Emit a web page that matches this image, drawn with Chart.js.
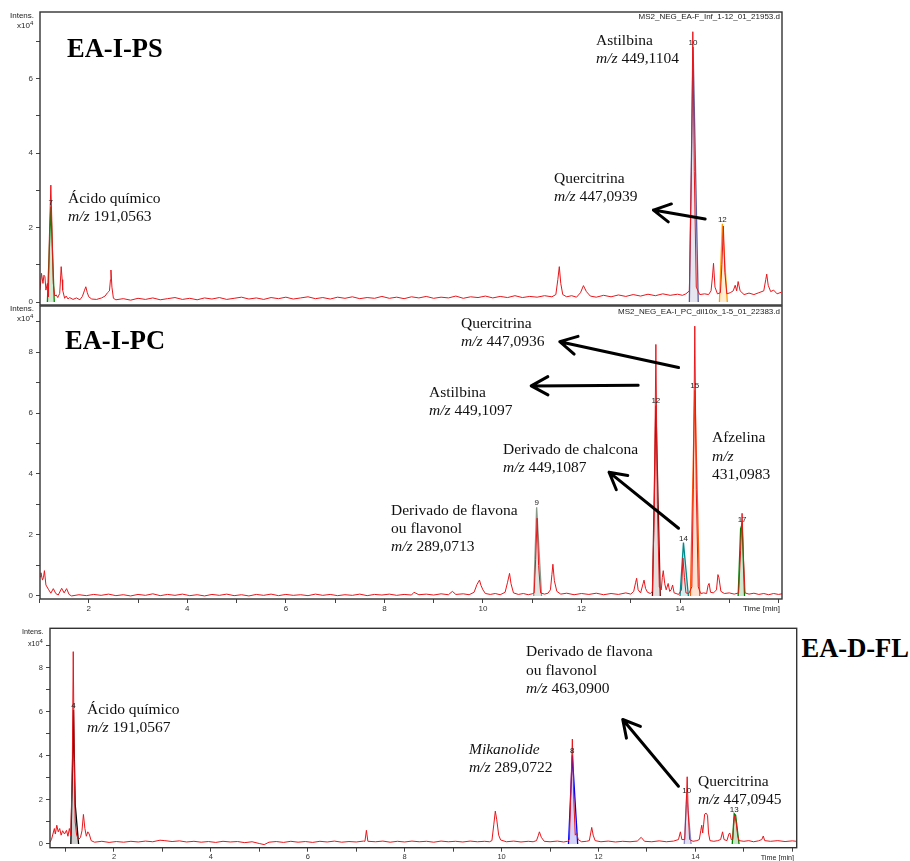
<!DOCTYPE html>
<html>
<head>
<meta charset="utf-8">
<script src="https://cdn.jsdelivr.net/npm/chart.js@4.4.1/dist/chart.umd.min.js"></script>
<style>
  body { margin: 0; background: #fff; }
  #page { position: relative; width: 910px; height: 861px; overflow: hidden; background: #fff; }
  canvas { position: absolute; }
  .note { position: absolute; font-family: "Liberation Serif", "Times New Roman", serif; font-size: 15.5px; line-height: 18.4px; color: #111; white-space: nowrap; }
  .tag { position: absolute; font-family: "Liberation Serif", "Times New Roman", serif; font-weight: bold; font-size: 26.5px; line-height: 26.5px; color: #000; white-space: nowrap; }
  .small { position: absolute; font-family: "Liberation Sans", Arial, sans-serif; font-size: 8px; line-height: 8px; color: #222; white-space: nowrap; }
  .small sup { font-size: 6px; vertical-align: 3px; line-height: 0; }
  .peak { position: absolute; font-family: "Liberation Sans", Arial, sans-serif; font-size: 8px; line-height: 8px; color: #222; transform: translate(-50%, -100%); white-space: nowrap; }
</style>
</head>
<body>
<div id="page">
  <canvas id="chartPS" width="800" height="306" style="left:0;top:0"></canvas>
  <canvas id="chartPC" width="800" height="316" style="left:0;top:304px"></canvas>
  <canvas id="chartFL" width="800" height="246" style="left:0;top:615px"></canvas>

  <!-- painel 1 -->
  <div class="small" style="left:10px;top:11.7px">Intens.</div>
  <div class="small" style="left:17px;top:22.4px">x10<sup>4</sup></div>
  <div class="small" style="right:130px;top:13px">MS2_NEG_EA-F_Inf_1-12_01_21953.d</div>
  <div class="tag" style="left:67px;top:35.1px">EA-I-PS</div>
  <div class="note" style="left:68px;top:188.6px">Ácido químico<br><i>m/z</i> 191,0563</div>
  <div class="note" style="left:596px;top:30.6px">Astilbina<br><i>m/z</i> 449,1104</div>
  <div class="note" style="left:554px;top:168.9px">Quercitrina<br><i>m/z</i> 447,0939</div>

  <!-- painel 2 -->
  <div class="small" style="left:10px;top:305px">Intens.</div>
  <div class="small" style="left:17px;top:315.4px">x10<sup>4</sup></div>
  <div class="small" style="right:130px;top:308.4px">MS2_NEG_EA-I_PC_dil10x_1-5_01_22383.d</div>
  <div class="small" style="right:130px;top:605.4px">Time [min]</div>
  <div class="tag" style="left:65px;top:326.5px">EA-I-PC</div>
  <div class="note" style="left:461px;top:313.9px">Quercitrina<br><i>m/z</i> 447,0936</div>
  <div class="note" style="left:429px;top:382.9px">Astilbina<br><i>m/z</i> 449,1097</div>
  <div class="note" style="left:503px;top:439.6px">Derivado de chalcona<br><i>m/z</i> 449,1087</div>
  <div class="note" style="left:712px;top:428.3px">Afzelina<br><i>m/z</i><br>431,0983</div>
  <div class="note" style="left:391px;top:500.6px">Derivado de flavona<br>ou flavonol<br><i>m/z</i> 289,0713</div>

  <!-- painel 3 -->
  <div class="small" style="left:22px;top:627.7px;font-size:7.2px">Intens.</div>
  <div class="small" style="left:28px;top:640.1px;font-size:7.2px">x10<sup>4</sup></div>
  <div class="small" style="right:116px;top:854px;font-size:7.2px">Time [min]</div>
  <div class="tag" style="left:801.5px;top:634.5px">EA-D-FL</div>
  <div class="note" style="left:87px;top:699.6px">Ácido químico<br><i>m/z</i> 191,0567</div>
  <div class="note" style="left:526px;top:642.3px">Derivado de flavona<br>ou flavonol<br><i>m/z</i> 463,0900</div>
  <div class="note" style="left:469px;top:739.6px"><i>Mikanolide</i><br><i>m/z</i> 289,0722</div>
  <div class="note" style="left:698px;top:771.6px">Quercitrina<br><i>m/z</i> 447,0945</div>
</div>

<script>
// eixo do tempo (min) e intensidade (x10^4)
const minuteTicks = [1, 2, 3, 4, 5, 6, 7, 8, 9, 10, 11, 12, 13, 14, 15, 16];
const minuteLabels = [2, 4, 6, 8, 10, 12, 14];
const intensTicksPS = [0, 1, 2, 3, 4, 5, 6, 7];
const intensTicksPC = [0, 1, 2, 3, 4, 5, 6, 7, 8, 9];
const intensTicksFL = [0, 1, 2, 3, 4, 5, 6, 7, 8, 9];
const intensLabels = [0, 2, 4, 6, 8];

// EA-I-PS: cromatograma (tempo, intensidade)
const tracePS = [
  [1.01,0.32],[1.04,0.77],[1.07,0.50],[1.09,0.72],[1.11,0.68],[1.13,0.32],[1.16,0.50],[1.18,0.14],
  [1.20,1.75],[1.23,3.14],[1.25,2.20],[1.28,0.50],[1.31,0.16],[1.34,0.19],[1.37,0.12],[1.41,0.23],
  [1.43,0.70],[1.44,0.95],[1.46,0.60],[1.47,0.32],[1.51,0.10],[1.54,0.16],[1.58,0.08],[1.61,0.12],
  [1.68,0.07],[1.75,0.11],[1.82,0.06],[1.87,0.15],[1.91,0.30],[1.94,0.41],[1.97,0.25],[2.00,0.14],
  [2.06,0.08],[2.16,0.07],[2.26,0.11],[2.33,0.16],[2.38,0.25],[2.42,0.30],[2.44,0.60],[2.45,0.86],
  [2.47,0.40],[2.50,0.10],[2.55,0.06],[2.70,0.09],[2.85,0.05],[3.00,0.10],[3.15,0.07],[3.30,0.11],
  [3.45,0.06],[3.60,0.09],[3.75,0.12],[3.90,0.07],[4.05,0.10],[4.20,0.06],[4.35,0.11],[4.50,0.08],
  [4.65,0.12],[4.80,0.07],[4.95,0.10],[5.10,0.13],[5.25,0.08],[5.40,0.11],[5.55,0.07],[5.70,0.12],
  [5.85,0.09],[6.00,0.13],[6.15,0.08],[6.30,0.11],[6.45,0.14],[6.60,0.09],[6.75,0.12],[6.90,0.08],
  [7.05,0.13],[7.20,0.10],[7.35,0.14],[7.50,0.09],[7.65,0.12],[7.80,0.10],[7.95,0.15],[8.10,0.10],
  [8.25,0.13],[8.40,0.09],[8.55,0.14],[8.70,0.11],[8.85,0.15],[9.00,0.10],[9.15,0.13],[9.30,0.11],
  [9.45,0.16],[9.60,0.10],[9.75,0.14],[9.90,0.12],[10.05,0.16],[10.20,0.11],[10.35,0.15],[10.50,0.12],
  [10.65,0.17],[10.80,0.12],[10.95,0.15],[11.10,0.13],[11.25,0.17],[11.40,0.14],[11.48,0.20],[11.52,0.60],
  [11.55,0.95],[11.58,0.50],[11.62,0.20],[11.70,0.14],[11.80,0.17],[11.90,0.13],[11.98,0.25],[12.04,0.44],
  [12.10,0.28],[12.18,0.16],[12.30,0.13],[12.45,0.18],[12.60,0.14],[12.75,0.19],[12.90,0.15],[13.05,0.20],
  [13.20,0.16],[13.35,0.21],[13.50,0.17],[13.65,0.22],[13.80,0.18],[13.95,0.21],[14.05,0.18],[14.12,0.22],
  [14.19,0.30],[14.23,3.50],[14.26,7.26],[14.29,3.50],[14.33,0.40],[14.40,0.20],[14.50,0.22],[14.58,0.20],
  [14.63,0.30],[14.66,0.70],[14.68,1.04],[14.71,0.40],[14.76,0.22],[14.82,0.25],[14.85,1.00],[14.88,2.04],
  [14.91,0.80],[14.95,0.22],[15.02,0.25],[15.08,0.30],[15.12,0.45],[15.15,0.30],[15.18,0.55],[15.22,0.30],
  [15.30,0.20],[15.40,0.24],[15.50,0.20],[15.60,0.25],[15.70,0.30],[15.74,0.60],[15.76,0.75],[15.79,0.45],
  [15.84,0.28],[15.90,0.32],[15.97,0.22],[16.05,0.26]
];
const peakPS7 = [[1.16,0],[1.23,2.56],[1.30,0]];
const peakPS10 = [[14.19,0],[14.265,6.85],[14.37,0]];
const peakPS12 = [[14.80,0],[14.86,2.10],[14.96,0]];
const arrowsPS = [[[14.51,2.23],[13.46,2.47]]];

// EA-I-PC
const tracePC = [
  [1.01,0.63],[1.03,0.76],[1.06,0.52],[1.08,0.60],[1.10,0.83],[1.13,0.36],[1.18,0.22],[1.23,0.09],
  [1.28,0.24],[1.33,0.08],[1.38,0.03],[1.45,0.25],[1.50,0.10],[1.55,0.24],[1.60,0.05],[1.65,0.00],
  [1.80,0.04],[1.95,0.01],[2.10,0.05],[2.25,0.02],[2.40,0.06],[2.55,0.01],[2.70,0.04],[2.85,0.00],
  [3.00,0.05],[3.15,0.02],[3.30,0.07],[3.45,0.01],[3.60,0.05],[3.75,0.02],[3.90,0.06],[4.05,0.01],
  [4.20,0.04],[4.35,0.00],[4.50,0.05],[4.65,0.02],[4.80,0.06],[4.95,0.01],[5.10,0.04],[5.25,0.00],
  [5.40,0.05],[5.55,0.02],[5.70,0.06],[5.85,0.01],[6.00,0.05],[6.15,0.02],[6.30,0.04],[6.45,0.01],
  [6.60,0.06],[6.75,0.02],[6.90,0.05],[7.05,0.01],[7.20,0.04],[7.35,0.02],[7.50,0.06],[7.65,0.01],
  [7.80,0.05],[7.95,0.03],[8.10,0.06],[8.25,0.02],[8.40,0.05],[8.55,0.03],[8.60,0.12],[8.70,0.04],
  [8.85,0.06],[9.00,0.03],[9.15,0.07],[9.30,0.04],[9.38,0.15],[9.45,0.05],[9.60,0.07],[9.72,0.04],
  [9.82,0.12],[9.88,0.38],[9.93,0.52],[9.96,0.35],[10.00,0.20],[10.05,0.08],[10.15,0.05],[10.25,0.08],
  [10.35,0.04],[10.45,0.12],[10.50,0.45],[10.54,0.74],[10.57,0.40],[10.62,0.10],[10.72,0.05],[10.82,0.08],
  [10.92,0.04],[11.00,0.07],[11.04,0.10],[11.07,1.20],[11.10,2.55],[11.13,1.00],[11.17,0.10],[11.25,0.06],
  [11.32,0.09],[11.37,0.20],[11.40,0.70],[11.42,1.04],[11.45,0.50],[11.50,0.15],[11.58,0.06],[11.70,0.09],
  [11.85,0.04],[12.00,0.08],[12.15,0.05],[12.30,0.09],[12.45,0.04],[12.60,0.08],[12.75,0.05],[12.90,0.10],
  [13.00,0.06],[13.06,0.15],[13.10,0.45],[13.12,0.58],[13.15,0.20],[13.20,0.10],[13.25,0.40],[13.27,0.52],
  [13.30,0.25],[13.34,0.12],[13.40,0.08],[13.44,0.15],[13.48,3.00],[13.51,8.25],[13.54,3.00],[13.58,0.30],
  [13.62,0.20],[13.64,0.60],[13.66,0.83],[13.69,0.40],[13.72,0.20],[13.76,0.41],[13.79,0.15],[13.82,0.20],
  [13.85,0.36],[13.88,0.10],[13.92,0.08],[13.97,0.05],[14.03,0.20],[14.06,1.24],[14.09,0.60],[14.12,0.10],
  [14.18,0.08],[14.24,0.30],[14.27,3.50],[14.30,8.85],[14.33,3.50],[14.37,0.30],[14.42,0.08],[14.48,0.10],
  [14.54,0.08],[14.57,0.35],[14.59,0.41],[14.62,0.12],[14.68,0.10],[14.74,0.20],[14.77,0.70],[14.79,0.60],
  [14.83,0.15],[14.90,0.08],[15.00,0.10],[15.10,0.06],[15.19,0.10],[15.23,1.50],[15.26,2.71],[15.29,1.20],
  [15.32,0.10],[15.40,0.06],[15.50,0.09],[15.60,0.05],[15.70,0.08],[15.80,0.04],[15.90,0.08],[16.00,0.05],
  [16.07,0.07]
];
const peakPC9 = [[11.03,0],[11.09,2.91],[11.19,0]];
const peakPC12 = [[13.44,0],[13.51,6.25],[13.60,0]];
const peakPC14 = [[14.00,0],[14.07,1.75],[14.17,0]];
const peakPC15 = [[14.21,0],[14.30,6.75],[14.40,0]];
const peakPC17 = [[15.18,0],[15.23,2.20],[15.26,2.36],[15.31,0]];
const arrowsPC = [
  [[13.97,7.49],[11.56,8.34]],
  [[13.15,6.91],[10.98,6.89]],
  [[13.97,2.22],[12.56,4.06]]
];

// EA-D-FL
const traceFL = [
  [0.68,0.09],[0.71,0.20],[0.74,0.45],[0.77,0.70],[0.79,0.45],[0.82,0.85],[0.85,0.55],[0.88,0.70],
  [0.91,0.40],[0.94,0.60],[0.98,0.45],[1.02,0.62],[1.05,0.35],[1.08,0.70],[1.11,0.40],[1.14,3.50],
  [1.16,8.73],[1.18,3.80],[1.20,1.00],[1.23,0.40],[1.27,0.20],[1.31,0.30],[1.34,0.60],[1.37,1.34],
  [1.40,0.70],[1.43,0.35],[1.46,0.55],[1.49,0.45],[1.53,0.15],[1.60,0.08],[1.75,0.12],[1.90,0.07],
  [2.05,0.11],[2.20,0.08],[2.35,0.12],[2.50,0.09],[2.65,0.13],[2.80,0.10],[2.95,0.17],[3.05,0.15],
  [3.20,0.11],[3.35,0.14],[3.50,0.09],[3.65,0.12],[3.80,0.08],[3.95,0.11],[4.10,0.07],[4.25,0.12],
  [4.40,0.09],[4.55,0.11],[4.70,0.06],[4.85,0.10],[5.00,0.02],[5.10,-0.03],[5.20,0.08],[5.35,0.11],
  [5.50,0.07],[5.65,0.12],[5.80,0.08],[5.95,0.11],[6.10,0.07],[6.25,0.12],[6.40,0.09],[6.55,0.13],
  [6.70,0.08],[6.85,0.11],[7.00,0.09],[7.15,0.13],[7.18,0.12],[7.21,0.62],[7.24,0.12],[7.40,0.10],
  [7.55,0.13],[7.70,0.08],[7.85,0.12],[8.00,0.09],[8.15,0.13],[8.30,0.10],[8.45,0.12],[8.60,0.08],
  [8.75,0.13],[8.90,0.10],[9.05,0.12],[9.20,0.09],[9.35,0.13],[9.50,0.10],[9.65,0.12],[9.75,0.10],
  [9.80,0.15],[9.84,0.90],[9.87,1.49],[9.90,1.10],[9.94,0.40],[9.98,0.18],[10.10,0.10],[10.25,0.13],
  [10.40,0.09],[10.55,0.12],[10.65,0.10],[10.72,0.15],[10.76,0.40],[10.78,0.55],[10.82,0.30],[10.88,0.12],
  [11.00,0.10],[11.15,0.13],[11.28,0.09],[11.36,0.12],[11.40,0.20],[11.43,2.50],[11.46,4.76],[11.49,2.00],
  [11.52,0.40],[11.55,0.50],[11.58,0.20],[11.65,0.10],[11.75,0.12],[11.81,0.15],[11.84,0.50],[11.86,0.75],
  [11.89,0.40],[11.93,0.15],[12.05,0.10],[12.20,0.13],[12.35,0.09],[12.50,0.12],[12.65,0.10],[12.80,0.13],
  [12.88,0.30],[12.95,0.12],[13.10,0.10],[13.25,0.14],[13.40,0.10],[13.55,0.13],[13.65,0.20],[13.69,0.55],
  [13.72,0.20],[13.78,0.20],[13.81,1.80],[13.83,3.05],[13.85,1.50],[13.88,0.20],[13.95,0.12],[14.03,0.15],
  [14.08,0.20],[14.11,0.60],[14.13,0.85],[14.15,0.50],[14.17,0.90],[14.19,1.35],[14.22,1.40],[14.25,1.30],
  [14.27,0.50],[14.30,0.15],[14.38,0.12],[14.46,0.15],[14.52,0.20],[14.56,0.55],[14.59,0.20],[14.65,0.15],
  [14.69,0.45],[14.71,0.50],[14.74,0.20],[14.77,0.20],[14.79,0.90],[14.81,1.30],[14.84,1.00],[14.87,0.40],
  [14.90,0.15],[15.00,0.12],[15.10,0.15],[15.20,0.10],[15.30,0.14],[15.37,0.20],[15.40,0.36],[15.43,0.15],
  [15.55,0.12],[15.70,0.15],[15.85,0.11],[16.00,0.14],[16.09,0.12]
];
const peakFL4 = [[1.11,0],[1.14,3.00],[1.165,6.08],[1.20,1.80],[1.27,0]];
const peakFL8 = [[11.38,0],[11.46,4.03],[11.57,0]];
const peakFL10 = [[13.77,0],[13.82,2.20],[13.91,0]];
const peakFL13 = [[14.76,0],[14.80,1.38],[14.83,1.30],[14.90,0]];
const arrowsFL = [[[13.65,2.62],[12.50,5.65]]];

const SANS = '"Liberation Sans", Arial, sans-serif';
const TRACE_RED = '#e8161b';

function toXY(list) {
    return list.map(p => ({ x: p[0], y: p[1] }));
}

// traço vermelho por cima dos picos integrados
function traceSet(list) {
    return {
        data: toXY(list),
        borderColor: TRACE_RED,
        borderWidth: 1,
        pointRadius: 0,
        fill: false,
        tension: 0
    };
}

function peakSet(list, label, line, area) {
    return {
        data: toXY(list),
        peakLabel: label,
        borderColor: line,
        backgroundColor: area,
        borderWidth: 1.3,
        pointRadius: 0,
        fill: 'origin',
        tension: 0
    };
}

// moldura, setas e números dos picos
const panelPlugin = {
    id: 'panel',
    afterDraw(chart, args, opts) {
        const { ctx, chartArea: a, scales } = chart;
        ctx.save();
        ctx.strokeStyle = '#333';
        ctx.lineWidth = 1.4;
        ctx.strokeRect(a.left, a.top, a.right - a.left, a.bottom - a.top);

        ctx.strokeStyle = '#000';
        ctx.lineWidth = 3;
        ctx.lineCap = 'round';
        ctx.lineJoin = 'round';
        (opts.arrows || []).forEach(([from, to]) => {
            const x0 = scales.x.getPixelForValue(from[0]);
            const y0 = scales.y.getPixelForValue(from[1]);
            const x1 = scales.x.getPixelForValue(to[0]);
            const y1 = scales.y.getPixelForValue(to[1]);
            const ang = Math.atan2(y0 - y1, x0 - x1);
            const len = 19;
            ctx.beginPath();
            ctx.moveTo(x0, y0);
            ctx.lineTo(x1, y1);
            ctx.moveTo(x1 + len * Math.cos(ang - 0.5), y1 + len * Math.sin(ang - 0.5));
            ctx.lineTo(x1, y1);
            ctx.lineTo(x1 + len * Math.cos(ang + 0.5), y1 + len * Math.sin(ang + 0.5));
            ctx.stroke();
        });
        ctx.restore();

        if (chart.$peaksPlaced) return;
        chart.$peaksPlaced = true;
        const page = document.getElementById('page');
        const cv = chart.canvas;
        chart.data.datasets.forEach(ds => {
            if (!ds.peakLabel) return;
            const apex = ds.data.reduce((m, p) => (p.y > m.y ? p : m));
            const el = document.createElement('div');
            el.className = 'peak';
            el.textContent = ds.peakLabel;
            el.style.left = (cv.offsetLeft + scales.x.getPixelForValue(apex.x)) + 'px';
            el.style.top = (cv.offsetTop + scales.y.getPixelForValue(apex.y)) + 'px';
            page.appendChild(el);
        });
    }
};

function makePanel(id, cfg) {
    const tickFont = { family: SANS, size: cfg.tickSize };
    return new Chart(document.getElementById(id), {
        type: 'line',
        data: { datasets: cfg.datasets },
        options: {
            responsive: false,
            animation: false,
            devicePixelRatio: 1,
            layout: { padding: cfg.padding },
            plugins: {
                legend: { display: false },
                tooltip: { enabled: false },
                panel: { arrows: cfg.arrows }
            },
            scales: {
                x: {
                    type: 'linear',
                    min: cfg.xMin,
                    max: cfg.xMax,
                    display: cfg.showX,
                    afterBuildTicks: s => { s.ticks = minuteTicks.map(v => ({ value: v })); },
                    afterFit: s => { s.height = cfg.xHeight; s.paddingLeft = 0; s.paddingRight = 0; },
                    ticks: {
                        autoSkip: false,
                        maxRotation: 0,
                        padding: cfg.xPad,
                        color: '#333',
                        font: tickFont,
                        callback: v => (minuteLabels.includes(v) ? v : '')
                    },
                    grid: { drawOnChartArea: false, tickLength: 4, color: '#444', lineWidth: 1 },
                    border: { display: false }
                },
                y: {
                    type: 'linear',
                    min: cfg.yMin,
                    max: cfg.yMax,
                    afterBuildTicks: s => { s.ticks = cfg.yTicks.map(v => ({ value: v })); },
                    afterFit: s => { s.width = cfg.yWidth; s.paddingTop = 0; s.paddingBottom = 0; },
                    ticks: {
                        padding: 3,
                        color: '#333',
                        font: tickFont,
                        callback: v => (intensLabels.includes(v) ? v : '')
                    },
                    grid: { drawOnChartArea: false, tickLength: 4, color: '#444', lineWidth: 1 },
                    border: { display: false }
                }
            }
        },
        plugins: [panelPlugin]
    });
}

makePanel('chartPS', {
    datasets: [
        traceSet(tracePS),
        peakSet(peakPS7, '7', '#008a00', 'rgba(0,138,0,0.18)'),
        peakSet(peakPS10, '10', '#5c5c9c', 'rgba(200,200,225,0.45)'),
        peakSet(peakPS12, '12', '#ffa000', 'rgba(255,200,110,0.3)')
    ],
    arrows: arrowsPS,
    padding: { top: 12, right: 18, bottom: 1, left: 0 },
    xMin: 1.01, xMax: 16.07, showX: false, xHeight: 0, xPad: 1,
    yMin: -0.08, yMax: 7.79, yTicks: intensTicksPS, yWidth: 40,
    tickSize: 8
});

makePanel('chartPC', {
    datasets: [
        traceSet(tracePC),
        peakSet(peakPC9, '9', '#8a9a8a', 'rgba(205,212,205,0.6)'),
        peakSet(peakPC12, '12', '#7a0a0a', 'rgba(200,180,180,0.45)'),
        peakSet(peakPC14, '14', '#008b8b', 'rgba(150,210,210,0.4)'),
        peakSet(peakPC15, '15', '#ff5a10', 'rgba(255,190,150,0.45)'),
        peakSet(peakPC17, '17', '#008000', 'rgba(120,190,120,0.35)')
    ],
    arrows: arrowsPC,
    padding: { top: 2, right: 18, bottom: 0, left: 0 },
    xMin: 1.01, xMax: 16.07, showX: true, xHeight: 21, xPad: 1,
    yMin: -0.1, yMax: 9.51, yTicks: intensTicksPC, yWidth: 40,
    tickSize: 8
});

makePanel('chartFL', {
    datasets: [
        traceSet(traceFL),
        peakSet(peakFL4, '4', '#000000', 'rgba(190,190,190,0.7)'),
        peakSet(peakFL8, '8', '#0000ff', 'rgba(170,170,245,0.5)'),
        peakSet(peakFL10, '10', '#8a8ac8', 'rgba(205,205,235,0.6)'),
        peakSet(peakFL13, '13', '#008000', 'rgba(130,200,130,0.45)')
    ],
    arrows: arrowsFL,
    padding: { top: 13.3, right: 3.3, bottom: 0, left: 0 },
    xMin: 0.68, xMax: 16.09, showX: true, xHeight: 13.3, xPad: 1,
    yMin: -0.17, yMax: 9.79, yTicks: intensTicksFL, yWidth: 50,
    tickSize: 7.5
});
</script>
</body>
</html>
